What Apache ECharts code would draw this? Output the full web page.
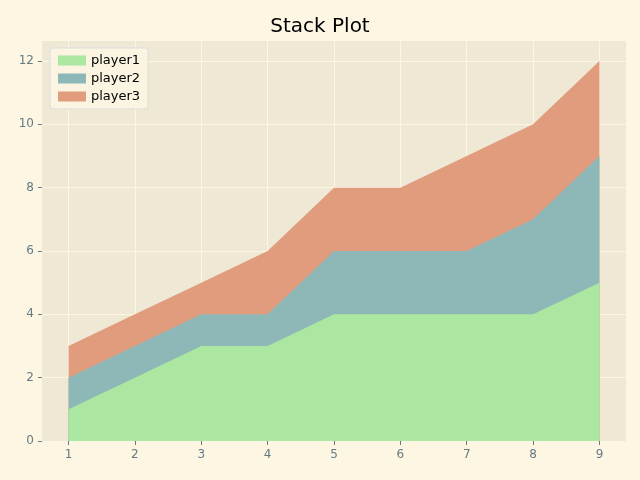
<!DOCTYPE html>
<html>
<head>
<meta charset="utf-8">
<script src="https://cdn.jsdelivr.net/npm/echarts@6/dist/echarts.min.js"></script>
<style>
html, body { margin: 0; padding: 0; background: #fdf6e3; }
#chart { width: 640px; height: 480px; }
</style>
</head>
<body>
<div id="chart"></div>
<script>
// 数据
var xs = [1, 2, 3, 4, 5, 6, 7, 8, 9];
var player1 = [1, 2, 3, 3, 4, 4, 4, 4, 5];
var player2 = [1, 1, 1, 1, 2, 2, 2, 3, 4];
var player3 = [1, 1, 1, 2, 2, 2, 3, 3, 3];
var names = ['player1', 'player2', 'player3'];
var colors = ['#abe7a0', '#8db8b7', '#e09c7c'];
var yTicks = [0, 2, 4, 6, 8, 10, 12];

// 手动累加：每层面积都填到 0，上层先画、下层覆盖
var layers = [player1, player2, player3];
var cum = [];
layers.forEach(function (vals, i) {
	cum.push(vals.map(function (v, j) { return v + (i ? cum[i - 1][j] : 0); }));
});

var series = cum.map(function (vals, i) {
	return {
		name: names[i],
		type: 'line',
		data: xs.map(function (x, j) { return [x, vals[j]]; }),
		z: 10 - i,
		symbol: 'none',
		lineStyle: { width: 0 },
		areaStyle: { color: colors[i], opacity: 1 },
		itemStyle: { color: colors[i] }
	};
});

var option = {
	backgroundColor: '#fdf6e3',
	animation: false,
	title: {
		text: 'Stack Plot',
		left: 'center',
		top: 12,
		textStyle: { fontFamily: 'DejaVu Sans', fontWeight: 'normal', fontSize: 20, color: '#000' }
	},
	legend: {
		orient: 'vertical',
		left: 50,
		top: 48,
		padding: [6, 8],
		itemGap: 5,
		itemWidth: 28,
		itemHeight: 10,
		icon: 'rect',
		backgroundColor: 'rgba(253,246,227,0.8)',
		borderColor: '#ddd',
		borderWidth: 1,
		borderRadius: 3,
		textStyle: { fontFamily: 'DejaVu Sans', fontSize: 13, color: '#000' },
		data: names
	},
	grid: {
		left: 42, right: 14, top: 41, bottom: 39,
		show: true, backgroundColor: '#eee8d5', borderWidth: 0
	},
	xAxis: {
		type: 'value',
		min: 0.6, max: 9.4,
		axisLine: { show: false },
		axisTick: { show: true, customValues: xs, length: 4, lineStyle: { color: '#657b83' } },
		axisLabel: { customValues: xs, color: '#657b83', fontFamily: 'DejaVu Sans', fontSize: 12 },
		splitLine: { show: true, lineStyle: { color: '#fdf6e3', width: 1 } }
	},
	yAxis: {
		type: 'value',
		min: -0.0001, max: 12.63,
		axisLine: { show: false },
		axisTick: { show: true, customValues: yTicks, length: 4, lineStyle: { color: '#657b83' } },
		axisLabel: { customValues: yTicks, color: '#657b83', fontFamily: 'DejaVu Sans', fontSize: 12 },
		splitLine: { show: true, lineStyle: { color: '#fdf6e3', width: 1 } }
	},
	series: series
};

var chart = echarts.init(document.getElementById('chart'));
chart.setOption(option);
</script>
</body>
</html>
